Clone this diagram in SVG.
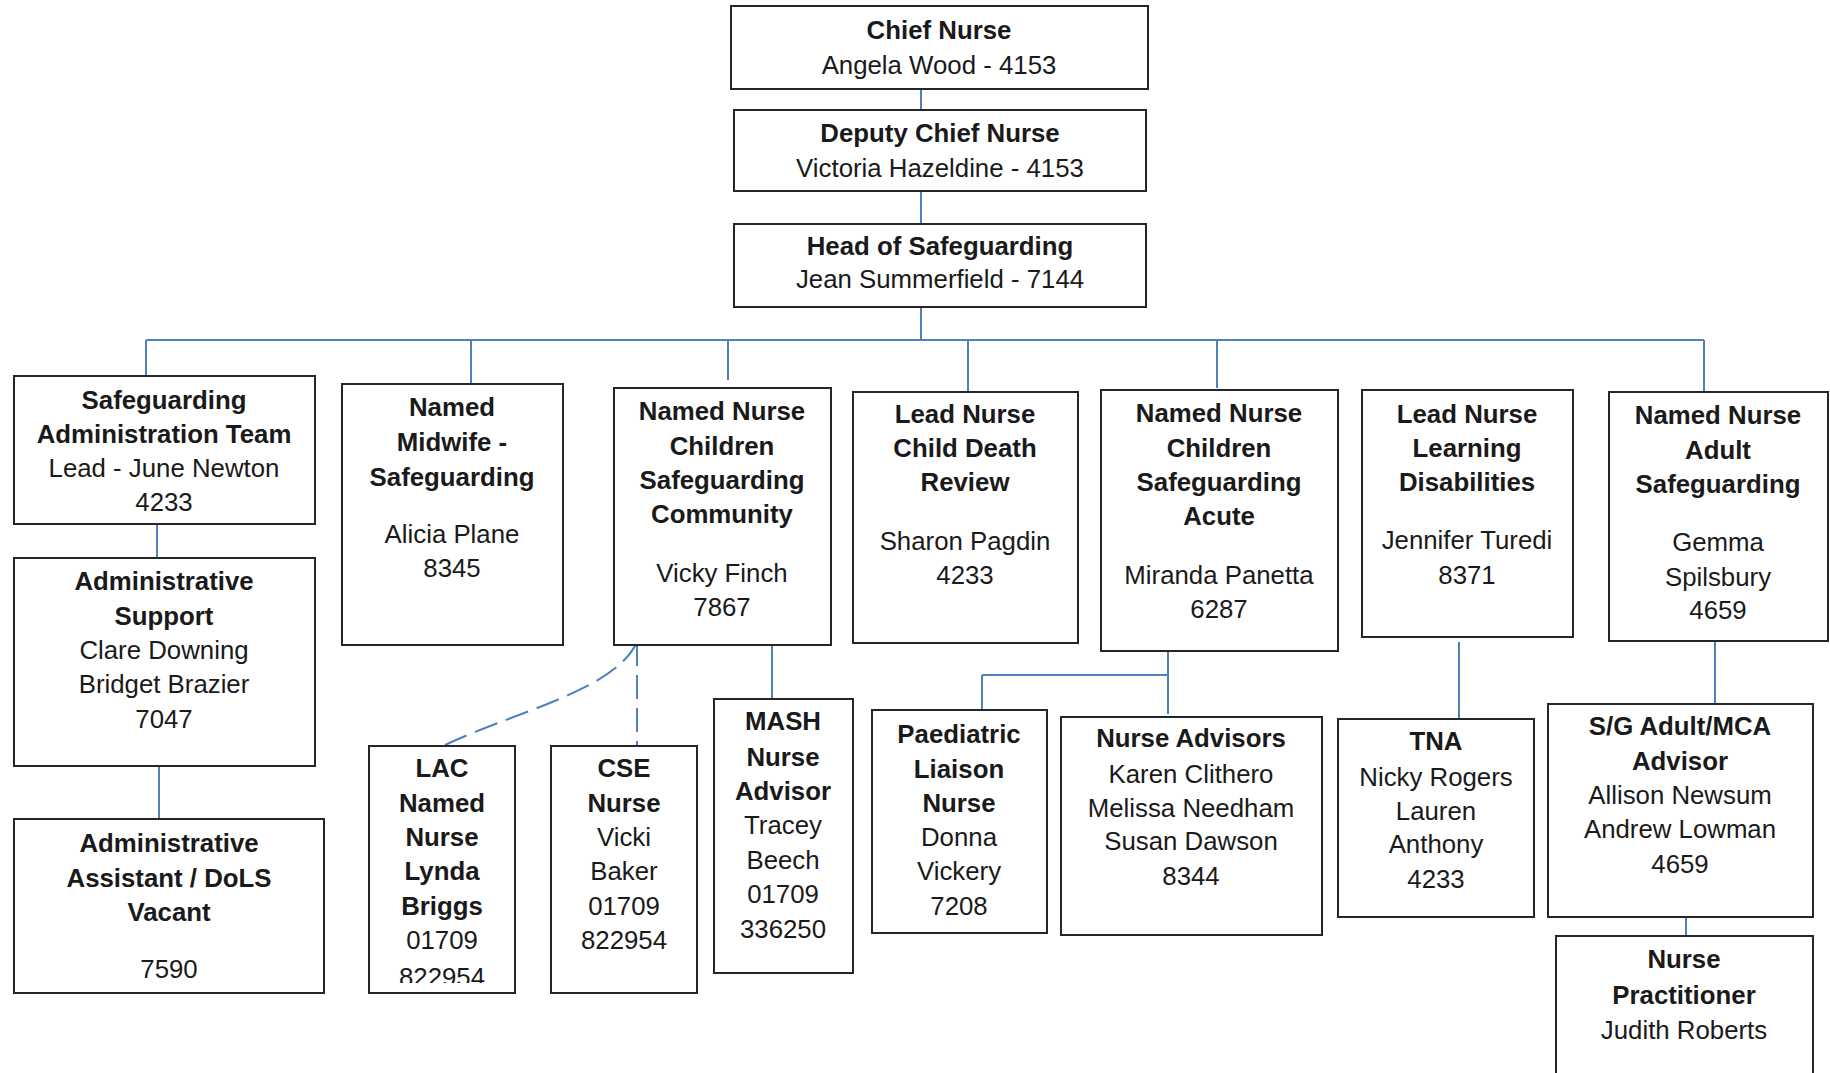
<svg xmlns="http://www.w3.org/2000/svg" width="1830" height="1073" viewBox="0 0 1830 1073">
<style>
.box{fill:#fff;stroke:#262626;stroke-width:2}
.c{fill:none;stroke:#4f81bd;stroke-width:2}
.d{fill:none;stroke:#4f81bd;stroke-width:2;stroke-dasharray:24 9}
text{font-family:"Liberation Sans",Arial,sans-serif;font-size:25.8px;fill:#1a1a1a;text-anchor:middle}
.b{font-weight:bold}
</style>
<defs>
<clipPath id="lacclip"><rect x="369" y="746" width="146" height="237"/></clipPath>
</defs>
<rect width="1830" height="1073" fill="#fff"/>
<g id="connectors">
<path class="c" d="M921 89V110M921 191V224M921 307V340M146 340H1704"/>
<path class="c" d="M146 340V376M471 340V383M728 340V380M968 340V392M1217 340V388M1704 340V391"/>
<path class="c" d="M157 524V558M159 766V819"/>
<path class="c" d="M772 642V699"/>
<path class="c" d="M1168 652V714M982 675H1168M982 675V710"/>
<path class="c" d="M1459 642V718M1715 642V704M1686 917V936"/>
<path class="d" d="M637 642C615 690 520 710 445 745"/>
<path class="d" d="M637 642V746"/>
</g>
<g id="chief"><rect class="box" x="731" y="6" width="417" height="83"/><text x="939" y="39" class="b">Chief Nurse</text><text x="939" y="74">Angela Wood - 4153</text></g>
<g id="deputy"><rect class="box" x="734" y="110" width="412" height="81"/><text x="940" y="142" class="b">Deputy Chief Nurse</text><text x="940" y="177">Victoria Hazeldine - 4153</text></g>
<g id="head"><rect class="box" x="734" y="224" width="412" height="83"/><text x="940" y="255" class="b">Head of Safeguarding</text><text x="940" y="288">Jean Summerfield - 7144</text></g>
<g id="admin-team"><rect class="box" x="14" y="376" width="301" height="148"/><text x="164" y="409" class="b">Safeguarding</text><text x="164" y="443" class="b">Administration Team</text><text x="164" y="477">Lead - June Newton</text><text x="164" y="511">4233</text></g>
<g id="midwife"><rect class="box" x="342" y="384" width="221" height="261"/><text x="452" y="416" class="b">Named</text><text x="452" y="451" class="b">Midwife -</text><text x="452" y="486" class="b">Safeguarding</text><text x="452" y="543">Alicia Plane</text><text x="452" y="577">8345</text></g>
<g id="community"><rect class="box" x="614" y="388" width="217" height="257"/><text x="722" y="420" class="b">Named Nurse</text><text x="722" y="455" class="b">Children</text><text x="722" y="489" class="b">Safeguarding</text><text x="722" y="523" class="b">Community</text><text x="722" y="582">Vicky Finch</text><text x="722" y="616">7867</text></g>
<g id="cdr"><rect class="box" x="853" y="392" width="225" height="251"/><text x="965" y="423" class="b">Lead Nurse</text><text x="965" y="457" class="b">Child Death</text><text x="965" y="491" class="b">Review</text><text x="965" y="550">Sharon Pagdin</text><text x="965" y="584">4233</text></g>
<g id="acute"><rect class="box" x="1101" y="390" width="237" height="261"/><text x="1219" y="422" class="b">Named Nurse</text><text x="1219" y="457" class="b">Children</text><text x="1219" y="491" class="b">Safeguarding</text><text x="1219" y="525" class="b">Acute</text><text x="1219" y="584">Miranda Panetta</text><text x="1219" y="618">6287</text></g>
<g id="ld"><rect class="box" x="1362" y="390" width="211" height="247"/><text x="1467" y="423" class="b">Lead Nurse</text><text x="1467" y="457" class="b">Learning</text><text x="1467" y="491" class="b">Disabilities</text><text x="1467" y="549">Jennifer Turedi</text><text x="1467" y="584">8371</text></g>
<g id="adult"><rect class="box" x="1609" y="392" width="219" height="249"/><text x="1718" y="424" class="b">Named Nurse</text><text x="1718" y="459" class="b">Adult</text><text x="1718" y="493" class="b">Safeguarding</text><text x="1718" y="551">Gemma</text><text x="1718" y="586">Spilsbury</text><text x="1718" y="619">4659</text></g>
<g id="admin-support"><rect class="box" x="14" y="558" width="301" height="208"/><text x="164" y="590" class="b">Administrative</text><text x="164" y="625" class="b">Support</text><text x="164" y="659">Clare Downing</text><text x="164" y="693">Bridget Brazier</text><text x="164" y="728">7047</text></g>
<g id="admin-assistant"><rect class="box" x="14" y="819" width="310" height="174"/><text x="169" y="852" class="b">Administrative</text><text x="169" y="887" class="b">Assistant / DoLS</text><text x="169" y="921" class="b">Vacant</text><text x="169" y="978">7590</text></g>
<g id="lac"><rect class="box" x="369" y="746" width="146" height="247"/><g clip-path="url(#lacclip)"><text x="442" y="777" class="b">LAC</text><text x="442" y="812" class="b">Named</text><text x="442" y="846" class="b">Nurse</text><text x="442" y="880" class="b">Lynda</text><text x="442" y="915" class="b">Briggs</text><text x="442" y="949">01709</text><text x="442" y="986">822954</text></g></g>
<g id="cse"><rect class="box" x="551" y="746" width="146" height="247"/><text x="624" y="777" class="b">CSE</text><text x="624" y="812" class="b">Nurse</text><text x="624" y="846">Vicki</text><text x="624" y="880">Baker</text><text x="624" y="915">01709</text><text x="624" y="949">822954</text></g>
<g id="mash"><rect class="box" x="714" y="699" width="139" height="274"/><text x="783" y="730" class="b">MASH</text><text x="783" y="766" class="b">Nurse</text><text x="783" y="800" class="b">Advisor</text><text x="783" y="834">Tracey</text><text x="783" y="869">Beech</text><text x="783" y="903">01709</text><text x="783" y="938">336250</text></g>
<g id="paediatric"><rect class="box" x="872" y="710" width="175" height="223"/><text x="959" y="743" class="b">Paediatric</text><text x="959" y="778" class="b">Liaison</text><text x="959" y="812" class="b">Nurse</text><text x="959" y="846">Donna</text><text x="959" y="880">Vickery</text><text x="959" y="915">7208</text></g>
<g id="nurse-advisors"><rect class="box" x="1061" y="717" width="261" height="218"/><text x="1191" y="747" class="b">Nurse Advisors</text><text x="1191" y="783">Karen Clithero</text><text x="1191" y="817">Melissa Needham</text><text x="1191" y="850">Susan Dawson</text><text x="1191" y="885">8344</text></g>
<g id="tna"><rect class="box" x="1338" y="719" width="196" height="198"/><text x="1436" y="750" class="b">TNA</text><text x="1436" y="786">Nicky Rogers</text><text x="1436" y="820">Lauren</text><text x="1436" y="853">Anthony</text><text x="1436" y="888">4233</text></g>
<g id="sg-adult"><rect class="box" x="1548" y="704" width="265" height="213"/><text x="1680" y="735" class="b">S/G Adult/MCA</text><text x="1680" y="770" class="b">Advisor</text><text x="1680" y="804">Allison Newsum</text><text x="1680" y="838">Andrew Lowman</text><text x="1680" y="873">4659</text></g>
<g id="nurse-practitioner"><rect class="box" x="1556" y="936" width="257" height="150"/><text x="1684" y="968" class="b">Nurse</text><text x="1684" y="1004" class="b">Practitioner</text><text x="1684" y="1039">Judith Roberts</text></g>
</svg>
